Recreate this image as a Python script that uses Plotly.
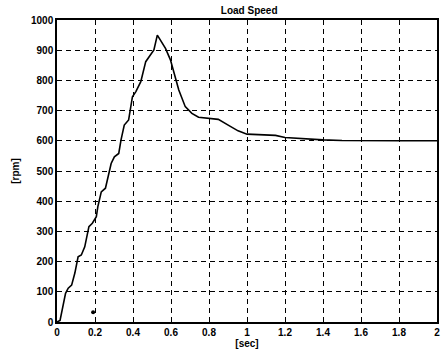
import plotly.graph_objects as go

time_s = [0.0, 0.016, 0.045, 0.059, 0.077, 0.094, 0.111, 0.128, 0.146, 0.168, 0.186, 0.207,
          0.215, 0.233, 0.255, 0.267, 0.285, 0.302, 0.325, 0.337, 0.354, 0.377, 0.384, 0.397,
          0.415, 0.441, 0.467, 0.493, 0.51, 0.528, 0.545, 0.571, 0.597, 0.615, 0.641, 0.675,
          0.71, 0.745, 0.797, 0.849, 0.901, 0.953, 1.0, 1.05, 1.15, 1.2, 1.3, 1.4, 1.5, 1.6, 1.8, 2.0]
speed_rpm = [0, 5, 95, 112, 122, 162, 216, 222, 249, 316, 327, 349,
             382, 431, 443, 476, 525, 547, 558, 603, 652, 669, 700, 746,
             763, 796, 862, 884, 901, 950, 934, 906, 868, 829, 768, 713,
             691, 678, 675, 671, 652, 633, 622, 620, 618, 611, 606, 603, 601, 600, 600, 600]
mark_x = [0.19]
mark_y = [32]

x_ticks = [0, 0.2, 0.4, 0.6, 0.8, 1, 1.2, 1.4, 1.6, 1.8, 2]
x_labels = ["0", "0.2", "0.4", "0.6", "0.8", "1", "1.2", "1.4", "1.6", "1.8", "2"]
y_ticks = list(range(0, 1001, 100))

font = dict(family="Liberation Sans, Arial, sans-serif", size=10, color="black", weight="bold")

fig = go.Figure()
fig.add_trace(go.Scatter(x=time_s, y=speed_rpm, mode="lines",
                         line=dict(color="black", width=1.6), showlegend=False))
fig.add_trace(go.Scatter(x=mark_x, y=mark_y, mode="markers",
                         marker=dict(color="black", size=4, symbol="circle"), showlegend=False))

axis_common = dict(showgrid=True, gridcolor="black", gridwidth=1.3, griddash="5px,4px",
                   showline=True, linecolor="black", linewidth=1.5, mirror=True,
                   zeroline=False, ticks="", tickfont=font)

fig.update_layout(
    width=441, height=361,
    margin=dict(l=57, r=1, t=20, b=39),
    paper_bgcolor="white", plot_bgcolor="white",
    title=dict(text="Load Speed", x=0.565, xanchor="center", y=0.98, yanchor="top",
               font=dict(family=font["family"], size=10, color="black", weight="bold")),
    xaxis=dict(range=[0, 2], tickvals=x_ticks, ticktext=x_labels, ticklabeloverflow="allow",
               title=dict(text="[sec]", font=font, standoff=2), **axis_common),
    yaxis=dict(range=[0, 1000], tickvals=y_ticks,
               title=dict(text="[rpm]", font=font, standoff=10), **axis_common),
)

fig.write_html("out.html")
